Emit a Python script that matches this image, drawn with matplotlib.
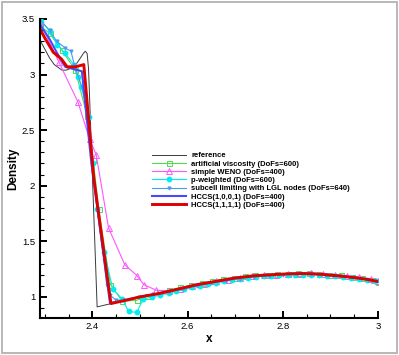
import matplotlib
matplotlib.use("Agg")
import matplotlib.pyplot as plt
from matplotlib.ticker import MultipleLocator
from matplotlib.patches import Rectangle

plt.rcParams['font.family'] = ['Liberation Sans', 'DejaVu Sans']

# ---------------- data ----------------
smooth_x = [2.46, 2.48, 2.50, 2.52, 2.54, 2.56, 2.58, 2.60, 2.62, 2.64, 2.66, 2.68,
            2.70, 2.72, 2.74, 2.76, 2.78, 2.80, 2.82, 2.84, 2.86, 2.88, 2.90, 2.92,
            2.94, 2.96, 2.98, 3.00]
smooth_y = [0.96, 0.98, 1.00, 1.015, 1.03, 1.05, 1.07, 1.09, 1.11, 1.125, 1.14, 1.155,
            1.17, 1.18, 1.19, 1.195, 1.20, 1.205, 1.208, 1.21, 1.208, 1.203, 1.195, 1.188,
            1.178, 1.168, 1.155, 1.138]

ref_x = [2.29, 2.30, 2.31, 2.32, 2.336, 2.345, 2.357, 2.367, 2.375, 2.381, 2.385,
         2.389, 2.392, 2.41, 2.44] + smooth_x
ref_y = [3.31, 3.23, 3.15, 3.09, 3.04, 3.04, 3.06, 3.10, 3.15, 3.19, 3.21,
         3.19, 3.05, 0.91, 0.94] + smooth_y

av_x = [2.29, 2.31, 2.336, 2.364, 2.389, 2.402, 2.413, 2.438, 2.463, 2.494, 2.515,
        2.54, 2.562, 2.585, 2.607, 2.63, 2.652, 2.675, 2.697, 2.72, 2.742, 2.765,
        2.787, 2.81, 2.832, 2.855, 2.877, 2.90, 2.922, 2.945, 2.967, 2.99, 3.0]
av_y = [3.44, 3.37, 3.22, 3.04, 2.63, 2.23, 1.79, 1.11, 0.96, 0.97, 1.01,
        1.04, 1.06, 1.085, 1.105, 1.125, 1.14, 1.16, 1.17, 1.185, 1.195, 1.20,
        1.21, 1.21, 1.215, 1.215, 1.21, 1.20, 1.195, 1.18, 1.17, 1.15, 1.13]

weno_x = [2.29, 2.33, 2.37, 2.394, 2.408, 2.434, 2.468, 2.494, 2.508, 2.534, 2.56,
          2.585, 2.61, 2.635, 2.66, 2.685, 2.71, 2.735, 2.76, 2.785, 2.81, 2.835,
          2.86, 2.885, 2.91, 2.935, 2.96, 2.985, 3.0]
weno_y = [3.47, 3.11, 2.75, 2.42, 2.28, 1.62, 1.29, 1.19, 1.11, 1.06, 1.055,
          1.075, 1.10, 1.12, 1.14, 1.155, 1.17, 1.185, 1.195, 1.20, 1.21, 1.21,
          1.215, 1.21, 1.20, 1.19, 1.18, 1.16, 1.14]

pw_x = [2.293, 2.31, 2.326, 2.343, 2.361, 2.370, 2.377, 2.392, 2.401, 2.41, 2.425,
        2.443, 2.463, 2.476, 2.493, 2.507, 2.526, 2.543, 2.56, 2.576, 2.593, 2.61,
        2.626, 2.643, 2.66, 2.676, 2.693, 2.71, 2.726, 2.743, 2.76, 2.776, 2.793,
        2.81, 2.826, 2.843, 2.86, 2.876, 2.893, 2.91, 2.926, 2.943, 2.96, 2.976, 2.993]
pw_y = [3.48, 3.39, 3.27, 3.19, 3.09, 2.98, 2.89, 2.62, 2.20, 1.79, 1.40,
        1.07, 0.98, 0.87, 0.86, 0.98, 1.00, 1.015, 1.035, 1.05, 1.068, 1.085,
        1.10, 1.112, 1.125, 1.14, 1.15, 1.16, 1.17, 1.178, 1.185, 1.19, 1.195,
        1.198, 1.20, 1.20, 1.20, 1.198, 1.192, 1.186, 1.18, 1.172, 1.162, 1.152, 1.14]

sub_x = [2.29, 2.31, 2.325, 2.343, 2.355, 2.362, 2.378, 2.392, 2.41, 2.424, 2.43,
         2.436, 2.45, 2.466, 2.497, 2.528, 2.56, 2.59, 2.62, 2.65, 2.68, 2.71,
         2.74, 2.77, 2.80, 2.83, 2.86, 2.89, 2.92, 2.95, 2.98, 3.0]
sub_y = [3.49, 3.40, 3.30, 3.24, 3.21, 3.09, 2.89, 2.62, 1.78, 1.33, 1.11,
         1.02, 0.97, 0.97, 1.00, 1.025, 1.045, 1.075, 1.10, 1.125, 1.145, 1.165,
         1.18, 1.19, 1.20, 1.205, 1.205, 1.20, 1.19, 1.175, 1.155, 1.14]

h1_x = [2.29, 2.31, 2.325, 2.343, 2.36, 2.378, 2.398, 2.437] + smooth_x
h1_y = [3.45, 3.32, 3.20, 3.07, 3.05, 3.03, 2.20, 0.945] + smooth_y

h2_x = [2.29, 2.30, 2.318, 2.335, 2.347, 2.365, 2.382, 2.403, 2.439] + smooth_x
h2_y = [3.41, 3.33, 3.20, 3.14, 3.07, 3.07, 3.09, 2.07, 0.94] + smooth_y

labels = ["reference", "artificial viscosity (DoFs=600)", "simple WENO (DoFs=400)",
          "p-weighted (DoFs=600)", "subcell limiting with LGL nodes (DoFs=640)",
          "HCCS(1,0,0,1) (DoFs=400)", "HCCS(1,1,1,1) (DoFs=400)"]

x_ticks = [2.4, 2.6, 2.8, 3.0]
x_tick_labels = ["2.4", "2.6", "2.8", "3"]
y_ticks = [1.0, 1.5, 2.0, 2.5, 3.0, 3.5]
y_tick_labels = ["1", "1.5", "2", "2.5", "3", "3.5"]

# ---------------- figure ----------------
W, H = 399, 355
fig = plt.figure(figsize=(W / 100, H / 100), dpi=100)
ax = fig.add_axes([40 / W, 1 - 318 / H, 338 / W, 299 / H])

l0, = ax.plot(ref_x, ref_y, color='#3a3a3a', lw=0.7)
l1, = ax.plot(av_x, av_y, color='#4fdc4f', lw=0.8, marker='s', ms=3.6,
              mfc='none', mec='#4fdc4f', mew=0.7)
l2, = ax.plot(weno_x, weno_y, color='#ff55ff', lw=0.8, marker='^', ms=4.0,
              mfc='none', mec='#ff55ff', mew=0.7)
l3, = ax.plot(pw_x, pw_y, color='#00eeee', lw=0.8, marker='o', ms=3.2,
              mfc='#00eeee', mec='#00eeee')
l4, = ax.plot(sub_x, sub_y, color='#4a9cf0', lw=0.8, marker='v', ms=2.0,
              mfc='#4a9cf0', mec='#4a9cf0')
l5, = ax.plot(h1_x, h1_y, color='#4848ff', lw=1.5)
l6, = ax.plot(h2_x, h2_y, color='#dd0000', lw=2.1)

ax.set_xlim(2.29, 3.0)
ax.set_ylim(0.81, 3.5)

for s in ['top', 'right']:
    ax.spines[s].set_visible(False)
for s in ['left', 'bottom']:
    ax.spines[s].set_linewidth(1.5)

ax.set_xticks(x_ticks)
ax.set_xticklabels(x_tick_labels)
ax.set_yticks(y_ticks)
ax.set_yticklabels(y_tick_labels)
ax.xaxis.set_minor_locator(MultipleLocator(0.05))
ax.yaxis.set_minor_locator(MultipleLocator(0.1))
ax.tick_params(which='major', direction='in', length=5, width=1.4, labelsize=6.8)
ax.tick_params(which='minor', direction='in', length=3, width=0.8)
ax.tick_params(axis='x', which='major', pad=3)
ax.tick_params(axis='y', which='major', pad=3.5)

ax.set_xlabel('x', fontsize=8.5, fontweight='bold')
ax.set_ylabel('Density', fontsize=8.5, fontweight='bold')
ax.xaxis.set_label_coords(169 / 338, (318 - 339) / 299)
ax.yaxis.set_label_coords((13 - 40) / 338, 0.5)
ax.xaxis.label.set_va('center')
ax.yaxis.label.set_va('center')

leg = ax.legend([l0, l1, l2, l3, l4, l5, l6], labels, loc='upper left',
                bbox_to_anchor=(152 / W, 1 - 152 / H), bbox_transform=fig.transFigure,
                frameon=False, prop={'weight': 'bold', 'size': 5.5},
                handlelength=4.4, handletextpad=0.75, labelspacing=0.12,
                borderpad=0, borderaxespad=0, numpoints=1)

fig.patches.append(Rectangle((1.5 / W, 2 / H), 395.5 / W, 351 / H,
                             transform=fig.transFigure, fill=False,
                             edgecolor='#b8b8b8', lw=1.4))

fig.savefig('out.png', dpi=100)
